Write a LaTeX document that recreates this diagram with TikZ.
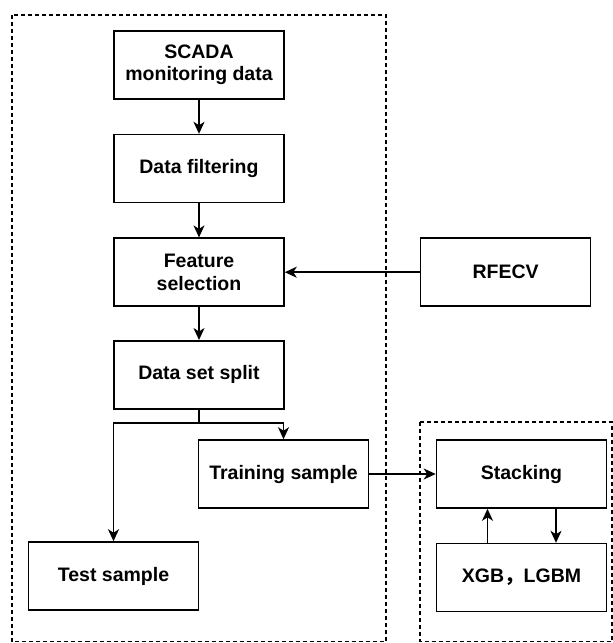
\documentclass[tikz,border=0pt]{standalone}
\usepackage{fontspec}
\setmainfont{Liberation Sans}
\newfontfamily\cjkfont{Noto Sans CJK SC}
\usepackage{tikz}
\usetikzlibrary{arrows.meta,positioning}

\begin{document}
\begin{tikzpicture}[
  x=1pt, y=-1pt,
  node distance=34pt,
  block/.style={draw, line width=1.6pt, align=center, minimum width=170pt, minimum height=68pt,
    inner sep=2pt, font=\fontsize{19.5}{22.5}\selectfont\bfseries},
  frame/.style={draw, line width=1.1pt, dash pattern=on 4pt off 3pt},
  arrow/.style={-{Stealth[length=12pt, width=11pt, inset=3.5pt]}, line width=1.5pt}
]
\useasboundingbox (0,0) rectangle (613,643);
% dashed groups
\draw[frame] (12,15) rectangle (386,641.5);
\draw[frame] (420,422) rectangle (612,641.5);
% left column
\node[block] (scada) at (199,65) {SCADA\\monitoring data};
\node[block, below=of scada] (filter) {Data filtering};
\node[block, below=of filter] (select) {Feature\\selection};
\node[block, below=33pt of select] (split) {Data set split};
\node[block] (train) at (283.5,474) {Training sample};
\node[block] (test) at (113.5,576) {Test sample};
% right side
\node[block, right=135pt of select] (rfecv) {RFECV};
\node[block] (stack) at (521.5,474) {Stacking};
\node[block, below=of stack] (xgb) {XGB{\cjkfont ，}LGBM};
\coordinate (fork) at (split.south |- 0,423);
\draw[arrow] (scada) -- (filter);
\draw[arrow] (filter) -- (select);
\draw[arrow] (select) -- (split);
\draw[arrow] (rfecv) -- (select);
\draw[line width=1.5pt] (split.south) -- (fork);
\draw[arrow] (fork) -| (train.north);
\draw[arrow] (fork) -| (test.north);
\draw[arrow] (train) -- (stack);
\draw[arrow] ([xshift=-34pt]xgb.north) -- ([xshift=-34pt]stack.south);
\draw[arrow] ([xshift=34.5pt]stack.south) -- ([xshift=34.5pt]xgb.north);
\end{tikzpicture}
\end{document}
